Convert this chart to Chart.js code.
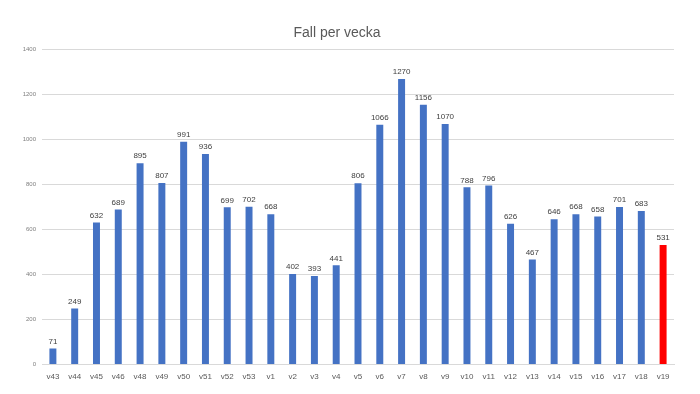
<!DOCTYPE html>
<html>
<head>
<meta charset="utf-8">
<script src="https://cdn.jsdelivr.net/npm/chart.js@4"></script>
<style>
  html, body { margin: 0; padding: 0; background: #fff; }
  #wrap { width: 700px; height: 394px; }
</style>
</head>
<body>
<div id="wrap"><canvas id="chart"></canvas></div>
<script>
const weeks = ["v43", "v44", "v45", "v46", "v48", "v49", "v50", "v51", "v52", "v53",
  "v1", "v2", "v3", "v4", "v5", "v6", "v7", "v8", "v9", "v10", "v11", "v12", "v13",
  "v14", "v15", "v16", "v17", "v18", "v19"];
const cases = [71, 249, 632, 689, 895, 807, 991, 936, 699, 702,
  668, 402, 393, 441, 806, 1066, 1270, 1156, 1070, 788, 796, 626, 467,
  646, 668, 658, 701, 683, 531];
const yTicks = [0, 200, 400, 600, 800, 1000, 1200, 1400];

// last week is highlighted in red
const barColors = cases.map((_, i) => (i === cases.length - 1 ? "#FF0000" : "#4472C4"));

const valueLabels = {
  id: "valueLabels",
  afterDatasetsDraw(chart) {
    const ctx = chart.ctx;
    const meta = chart.getDatasetMeta(0);
    ctx.save();
    ctx.font = "8px 'Liberation Sans', Arial, sans-serif";
    ctx.fillStyle = "#404040";
    ctx.textAlign = "center";
    ctx.textBaseline = "bottom";
    meta.data.forEach((bar, i) => {
      ctx.fillText(cases[i], bar.x, bar.y - 3);
    });
    ctx.restore();
  },
};

new Chart(document.getElementById("chart").getContext("2d"), {
  type: "bar",
  data: {
    labels: weeks,
    datasets: [
      {
        label: "Fall",
        data: cases,
        backgroundColor: barColors,
        categoryPercentage: 1,
        barPercentage: 0.32,
      },
    ],
  },
  options: {
    responsive: true,
    maintainAspectRatio: false,
    animation: false,
    layout: { padding: { left: 0, right: 26, top: 0, bottom: 4 } },
    plugins: {
      legend: { display: false },
      tooltip: { enabled: false },
      title: {
        display: true,
        text: "Fall per vecka",
        color: "#595959",
        font: { size: 14, family: "'Liberation Sans', Arial, sans-serif", weight: "normal" },
        padding: { top: 25, bottom: 8 },
      },
    },
    scales: {
      x: {
        grid: { display: false, drawTicks: false },
        border: { color: "#d9d9d9" },
        ticks: {
          color: "#595959",
          font: { size: 8, family: "'Liberation Sans', Arial, sans-serif" },
          padding: 8,
          maxRotation: 0,
          autoSkip: false,
        },
      },
      y: {
        min: 0,
        max: 1400,
        afterFit(axis) { axis.width = 42; },
        afterBuildTicks(axis) { axis.ticks = yTicks.map((v) => ({ value: v })); },
        grid: { color: "#d9d9d9", drawTicks: false },
        border: { display: false },
        ticks: {
          color: "#7f7f7f",
          font: { size: 6, family: "'Liberation Sans', Arial, sans-serif" },
          padding: 6,
          callback: (v) => String(v),
        },
      },
    },
  },
  plugins: [valueLabels],
});
</script>
</body>
</html>
